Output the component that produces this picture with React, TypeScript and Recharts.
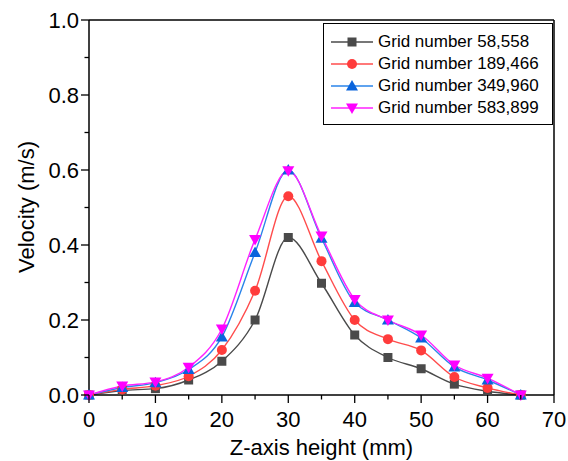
import React from 'react';
import { LineChart, Line, XAxis, YAxis, Legend, ReferenceLine } from 'recharts';

const heights = [0, 5, 10, 15, 20, 25, 30, 35, 40, 45, 50, 55, 60, 65];
const grid58558 = [0, 0.012, 0.017, 0.04, 0.09, 0.2, 0.42, 0.298, 0.16, 0.1, 0.07, 0.029, 0.01, 0];
const grid189466 = [0, 0.015, 0.025, 0.05, 0.12, 0.278, 0.53, 0.357, 0.2, 0.149, 0.119, 0.048, 0.019, 0];
const grid349960 = [0, 0.02, 0.033, 0.068, 0.155, 0.38, 0.6, 0.418, 0.247, 0.2, 0.152, 0.075, 0.04, 0];
const grid583899 = [0, 0.024, 0.035, 0.074, 0.176, 0.415, 0.598, 0.424, 0.255, 0.2, 0.16, 0.08, 0.045, 0];

const seriesNames = ['Grid number 58,558', 'Grid number 189,466', 'Grid number 349,960', 'Grid number 583,899'];
const xTicks = [0, 5, 10, 15, 20, 25, 30, 35, 40, 45, 50, 55, 60, 65, 70];
const yTicks = [0, 0.1, 0.2, 0.3, 0.4, 0.5, 0.6, 0.7, 0.8, 0.9, 1.0];

const data = heights.map((h, i) => ({
  h,
  g1: grid58558[i],
  g2: grid189466[i],
  g3: grid349960[i],
  g4: grid583899[i],
}));

const FONT = '"Liberation Sans", Arial, sans-serif';

type Shape = 'square' | 'circle' | 'up' | 'down';

const series: { key: string; name: string; shape: Shape; line: string; fill: string }[] = [
  { key: 'g1', name: seriesNames[0], shape: 'square', line: '#4a4a4a', fill: '#4a4a4a' },
  { key: 'g2', name: seriesNames[1], shape: 'circle', line: '#ff4c4c', fill: '#ff3c3c' },
  { key: 'g3', name: seriesNames[2], shape: 'up', line: '#2a84ea', fill: '#0a64dc' },
  { key: 'g4', name: seriesNames[3], shape: 'down', line: '#ff22ff', fill: '#ff00ff' },
];

const marker = (shape: Shape, cx: number, cy: number, color: string, key?: string) => {
  if (shape === 'square') {
    return <rect key={key} x={cx - 4.5} y={cy - 4.5} width={9} height={9} fill={color} />;
  }
  if (shape === 'circle') {
    return <circle key={key} cx={cx} cy={cy} r={5} fill={color} />;
  }
  if (shape === 'up') {
    return <polygon key={key} points={`${cx},${cy - 6} ${cx - 6},${cy + 4.5} ${cx + 6},${cy + 4.5}`} fill={color} />;
  }
  return <polygon key={key} points={`${cx},${cy + 6} ${cx - 6},${cy - 4.5} ${cx + 6},${cy - 4.5}`} fill={color} />;
};

const XTick = ({ x, y, payload }: any) => {
  const major = payload.value % 10 === 0;
  return (
    <g>
      <line x1={x} x2={x} y1={y} y2={y + (major ? 8 : 4.5)} stroke="#000" strokeWidth={1.3} />
      {major && (
        <text x={x} y={y + 32} textAnchor="middle" fontSize={22} fontFamily={FONT} fill="#000">
          {payload.value}
        </text>
      )}
    </g>
  );
};

const YTick = ({ x, y, payload }: any) => {
  const major = Math.round(payload.value * 10) % 2 === 0;
  return (
    <g>
      <line x1={x} x2={x - (major ? 8 : 4.5)} y1={y} y2={y} stroke="#000" strokeWidth={1.3} />
      {major && (
        <text x={x - 10} y={y} dy="0.36em" textAnchor="end" fontSize={22} fontFamily={FONT} fill="#000">
          {payload.value.toFixed(1)}
        </text>
      )}
    </g>
  );
};

const LegendBox = () => (
  <div
    style={{
      border: '1px solid #000',
      background: '#fff',
      padding: '7px 0 5px 6px',
      fontFamily: FONT,
      fontSize: 17,
      color: '#000',
      boxSizing: 'border-box',
      width: 230,
    }}
  >
    {series.map(s => (
      <div key={s.key} style={{ display: 'flex', alignItems: 'center', height: 22 }}>
        <svg width={44} height={22}>
          <line x1={1} x2={43} y1={11} y2={11} stroke={s.line} strokeWidth={1.3} />
          {marker(s.shape, 22, 11, s.fill)}
        </svg>
        <span style={{ marginLeft: 4, whiteSpace: 'nowrap' }}>{s.name}</span>
      </div>
    ))}
  </div>
);

export default function App() {
  return (
    <div style={{ position: 'absolute', left: 0, top: 0, width: 568, height: 461, background: '#fff' }}>
      <LineChart width={568} height={461} data={data} margin={{ top: 20, right: 14, left: 0, bottom: 0 }}>
        <XAxis
          dataKey="h"
          type="number"
          domain={[0, 70]}
          ticks={xTicks}
          interval={0}
          height={66}
          tickSize={0}
          tickMargin={0}
          tickLine={false}
          tick={<XTick />}
          axisLine={{ stroke: '#000', strokeWidth: 1.5 }}
          label={{
            value: 'Z-axis height (mm)',
            position: 'insideBottom',
            offset: 6,
            fontSize: 22,
            fontFamily: FONT,
            fill: '#000',
          }}
        />
        <YAxis
          type="number"
          domain={[0, 1]}
          ticks={yTicks}
          interval={0}
          width={89}
          tickSize={0}
          tickMargin={0}
          tickLine={false}
          tick={<YTick />}
          axisLine={{ stroke: '#000', strokeWidth: 1.5 }}
          label={{
            value: 'Velocity (m/s)',
            angle: -90,
            position: 'insideLeft',
            offset: 0,
            content: () => (
              <text
                x={26}
                y={207}
                transform="rotate(-90 26 207)"
                textAnchor="middle"
                dominantBaseline="central"
                fontSize={22}
                fontFamily={FONT}
                fill="#000"
              >
                Velocity (m/s)
              </text>
            ),
          }}
        />
        <ReferenceLine y={1} stroke="#000" strokeWidth={1.5} />
        <ReferenceLine x={70} stroke="#000" strokeWidth={1.5} />
        <Legend
          layout="vertical"
          verticalAlign="middle"
          align="center"
          content={<LegendBox />}
          wrapperStyle={{ position: 'absolute', left: 323, top: 23, width: 230, height: 'auto' }}
        />
        {series.map(s => (
          <Line
            key={s.key}
            dataKey={s.key}
            name={s.name}
            type="monotone"
            stroke={s.line}
            strokeWidth={1.4}
            isAnimationActive={false}
            activeDot={false}
            dot={(p: any) => marker(s.shape, p.cx, p.cy, s.fill, `${s.key}-${p.index}`)}
          />
        ))}
      </LineChart>
    </div>
  );
}
